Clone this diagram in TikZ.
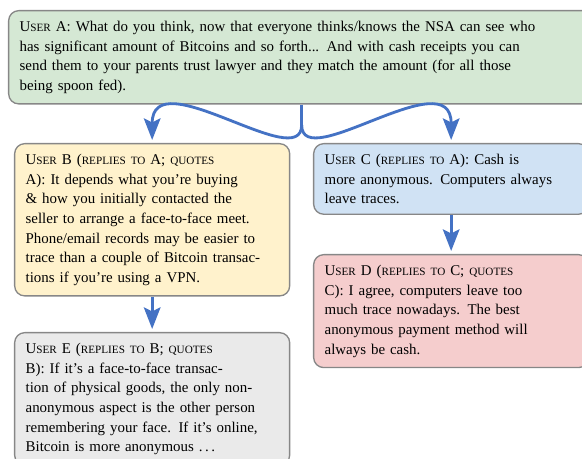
\documentclass[tikz,border=0pt]{standalone}
\usepackage{fontspec}
\setmainfont{Liberation Serif}
\usetikzlibrary{arrows.meta}

\definecolor{postA}{HTML}{D5E8D4}
\definecolor{postB}{HTML}{FFF2CC}
\definecolor{postC}{HTML}{D0E2F4}
\definecolor{postD}{HTML}{F5CDCD}
\definecolor{postE}{HTML}{EAEAEA}
\definecolor{postline}{HTML}{878787}
\definecolor{replyblue}{HTML}{4472C4}

% fake small caps
\newcommand\smc[1]{{\fontsize{6.7pt}{11.8pt}\selectfont #1}}

\begin{document}
\begin{tikzpicture}[x=1pt, y=1pt,
    post/.style={draw=postline, line width=0.8pt, rounded corners=6pt,
      anchor=north west, align=left, inner xsep=6.6pt, inner ysep=6.2pt,
      text width=151.8pt, font=\fontsize{8.95}{11.8}\selectfont},
    reply/.style={draw=replyblue, line width=1.7pt},
    tip/.style={-{Stealth[length=13pt,width=10pt,inset=2.5pt]}, shorten >=1.8pt}]
  \path[use as bounding box, clip] (0, 0) rectangle (349.2, -275.4);

  \node[post, fill=postA, text width=338.4pt] (A) at (4.8, -6)
    {U\smc{SER} A: What do you think, now that everyone thinks/knows the NSA can see who\\
     has significant amount of Bitcoins and so forth... And with cash receipts you can\\
     send them to your parents trust lawyer and they match the amount (for all those\\
     being spoon fed).};

  \node[post, fill=postB] (B) at (8.4, -85.8)
    {U\smc{SER} B (\smc{REPLIES TO} A; \smc{QUOTES}\\
     A): It depends what you're buying\\
     \& how you initially contacted the\\
     seller to arrange a face-to-face meet.\\
     Phone/email records may be easier to\\
     trace than a couple of Bitcoin transac-\\
     tions if you're using a VPN.};
  \node[post, fill=postC] (C) at (187.8, -85.8)
    {U\smc{SER} C (\smc{REPLIES TO} A): Cash is\\
     more anonymous. Computers always\\
     leave traces.};

  \node[post, fill=postD] (D) at (187.8, -152.4)
    {U\smc{SER} D (\smc{REPLIES TO} C; \smc{QUOTES}\\
     C): I agree, computers leave too\\
     much trace nowadays. The best\\
     anonymous payment method will\\
     always be cash.};
  \node[post, fill=postE] (E) at (8.4, -199.2)
    {U\smc{SER} E (\smc{REPLIES TO} B; \smc{QUOTES}\\
     B): If it's a face-to-face transac-\\
     tion of physical goods, the only non-\\
     anonymous aspect is the other person\\
     remembering your face. If it's online,\\
     Bitcoin is more anonymous .\,.\,.};

  % replies
  \coordinate (fork) at (A.south |- 0, -75);
  \draw[reply] (A.south) -- (fork);
  \draw[reply, tip] (fork) .. controls +(0, -30) and +(0, 50) .. (B.north);
  \draw[reply, tip] (fork) .. controls +(0, -30) and +(0, 50) .. (C.north);
  \draw[reply, tip] (B.south) -- (E.north);
  \draw[reply, tip] (C.south) -- (D.north);
\end{tikzpicture}
\end{document}
